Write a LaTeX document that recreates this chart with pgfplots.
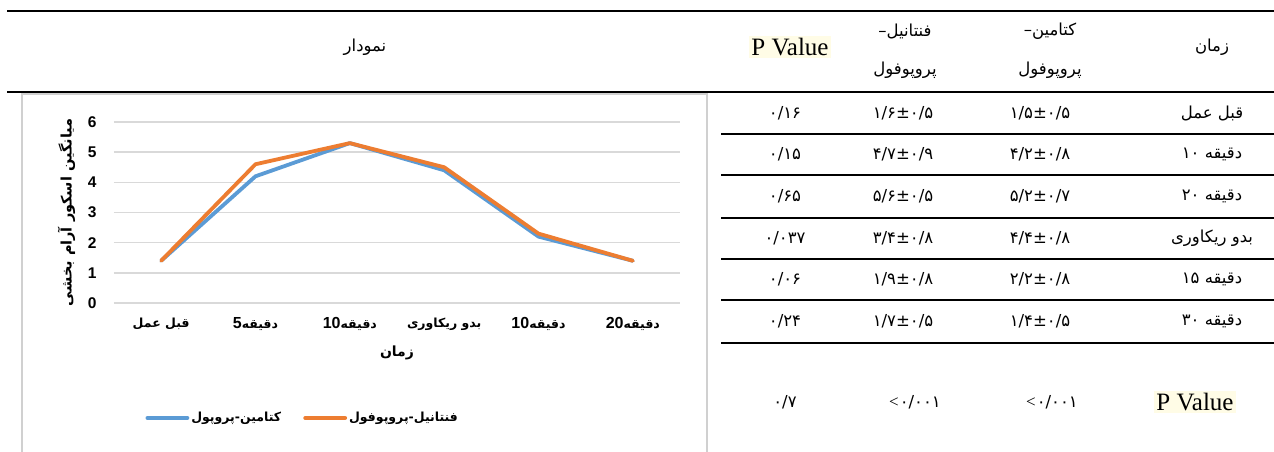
\documentclass[border=0pt]{standalone}
\usepackage{pgfplots}
\pgfplotsset{compat=1.18}
\usepackage{fontspec}
\setmainfont{Liberation Serif}
\newfontfamily\arabicfont[Script=Arabic]{DejaVu Sans}
\newfontfamily\chartfont{Liberation Sans}
\TeXXeTstate=1
\definecolor{kblue}{HTML}{5B9BD5}
\definecolor{forange}{HTML}{ED7D31}
\definecolor{gridgray}{HTML}{D9D9D9}
\definecolor{framegray}{HTML}{D0D0D0}
\definecolor{pbg}{HTML}{FFFCE6}
\newcommand\tfa{\arabicfont\fontsize{16.5}{18}\selectfont}
\newcommand\cfa{\arabicfont\bfseries\fontsize{12.5}{14}\selectfont}
\newcommand\cnum[1]{{\chartfont\bfseries\fontsize{16}{17}\selectfont #1}}
\newcommand\lt{{\fontsize{17}{18}\selectfont <}}
\begin{document}
\begin{tikzpicture}[x=1pt,y=1pt]
\clip (0,0) rectangle (1274,451);
\fill[white] (0,0) rectangle (1274,451);
% table rules
\draw[line width=2.6pt] (7,440) -- (1274,440);
\draw[line width=2.6pt] (7,359) -- (1274,359);
\foreach \y in {317,276,233,192,151,108} \draw[line width=2.3pt] (721,\y) -- (1274,\y);
% chart frame
\draw[framegray, line width=2pt] (22,-10) -- (22,357) -- (707,357) -- (707,-10);
% header
\node at (365,404) {\tfa\beginR نمودار\endR};
\node at (1212,404) {\tfa\beginR زمان\endR};
\node at (1050,420) {\tfa کتامین–};
\node at (1050,381) {\tfa\beginR پروپوفول\endR};
\node at (905,420) {\tfa فنتانیل–};
\node at (905,381) {\tfa\beginR پروپوفول\endR};
\node[fill=pbg, inner sep=2pt] at (790,404) {\fontsize{25}{28}\selectfont P Value};
% rows
\node at (1212,338)   {\tfa\beginR قبل عمل\endR};
\node at (1212,296.5) {\tfa\beginR دقیقه \beginL۱۰\endL\endR};
\node at (1212,254.5) {\tfa\beginR دقیقه \beginL۲۰\endL\endR};
\node at (1212,212.5) {\tfa\beginR بدو ریکاوری\endR};
\node at (1212,171.5) {\tfa\beginR دقیقه \beginL۱۵\endL\endR};
\node at (1212,129.5) {\tfa\beginR دقیقه \beginL۳۰\endL\endR};
\node at (1040,338)   {\tfa ۱/۵±۰/۵};
\node at (1040,296.5) {\tfa ۴/۲±۰/۸};
\node at (1040,254.5) {\tfa ۵/۲±۰/۷};
\node at (1040,212.5) {\tfa ۴/۴±۰/۸};
\node at (1040,171.5) {\tfa ۲/۲±۰/۸};
\node at (1040,129.5) {\tfa ۱/۴±۰/۵};
\node at (903,338)   {\tfa ۱/۶±۰/۵};
\node at (903,296.5) {\tfa ۴/۷±۰/۹};
\node at (903,254.5) {\tfa ۵/۶±۰/۵};
\node at (903,212.5) {\tfa ۳/۴±۰/۸};
\node at (903,171.5) {\tfa ۱/۹±۰/۸};
\node at (903,129.5) {\tfa ۱/۷±۰/۵};
\node at (785,338)   {\tfa ۰/۱۶};
\node at (785,296.5) {\tfa ۰/۱۵};
\node at (785,254.5) {\tfa ۰/۶۵};
\node at (785,212.5) {\tfa ۰/۰۳۷};
\node at (785,171.5) {\tfa ۰/۰۶};
\node at (785,129.5) {\tfa ۰/۲۴};
% last row
\node[fill=pbg, inner sep=2pt] at (1195,49) {\fontsize{25}{28}\selectfont P Value};
\node at (1052,49) {\lt\kern1pt{\tfa ۰/۰۰۱}};
\node at (915,49) {\lt\kern1pt{\tfa ۰/۰۰۱}};
\node at (785,49) {\tfa ۰/۷};
% chart
\begin{axis}[
  at={(114pt,148pt)}, anchor=south west,
  scale only axis, width=566pt, height=181pt,
  xmin=-0.5, xmax=5.5, ymin=0, ymax=6,
  axis line style={draw=none},
  major tick length=0pt,
  xtick={0,...,5}, ytick={0,...,6},
  xticklabels={
    {\beginR قبل عمل\endR},
    {\beginR دقیقه\beginL\cnum{5}\endL\endR},
    {\beginR دقیقه\beginL\cnum{10}\endL\endR},
    {\beginR بدو ریکاوری\endR},
    {\beginR دقیقه\beginL\cnum{10}\endL\endR},
    {\beginR دقیقه\beginL\cnum{20}\endL\endR}},
  xticklabel style={font=\cfa, yshift=-11pt},
  yticklabel style={font=\chartfont\bfseries\fontsize{15.5}{17}\selectfont, xshift=-14pt},
  /pgf/number format/assume math mode=true,
  ymajorgrids, grid style={gridgray, line width=1.4pt},
  ylabel={\beginR میانگین اسکور آرام بخشی\endR},
  ylabel style={font=\arabicfont\bfseries\fontsize{14.5}{16}\selectfont, at={(axis description cs:-0.084,0.5)}, anchor=center},
  xlabel={\beginR زمان\endR},
  xlabel style={font=\arabicfont\bfseries\fontsize{14}{16}\selectfont, at={(axis description cs:0.5,-0.275)}, anchor=center},
  legend style={at={(axis description cs:0.05,-0.635)}, anchor=west, draw=none, fill=none,
    legend columns=2, font=\cfa,
    /tikz/every even column/.append style={column sep=20pt}},
  legend image code/.code={\draw[#1, line cap=round] (0pt,0pt) -- (40pt,0pt);},
]
\addplot[kblue, line width=3.8pt, line join=round, line cap=round] coordinates {(0,1.4)(1,4.2)(2,5.3)(3,4.4)(4,2.2)(5,1.4)};
\addlegendentry{\beginR کتامین-پروپول\endR}
\addplot[forange, line width=3.8pt, line join=round, line cap=round] coordinates {(0,1.4)(1,4.6)(2,5.3)(3,4.5)(4,2.3)(5,1.4)};
\addlegendentry{\beginR فنتانیل-پروپوفول\endR}
\end{axis}
\end{tikzpicture}
\end{document}
